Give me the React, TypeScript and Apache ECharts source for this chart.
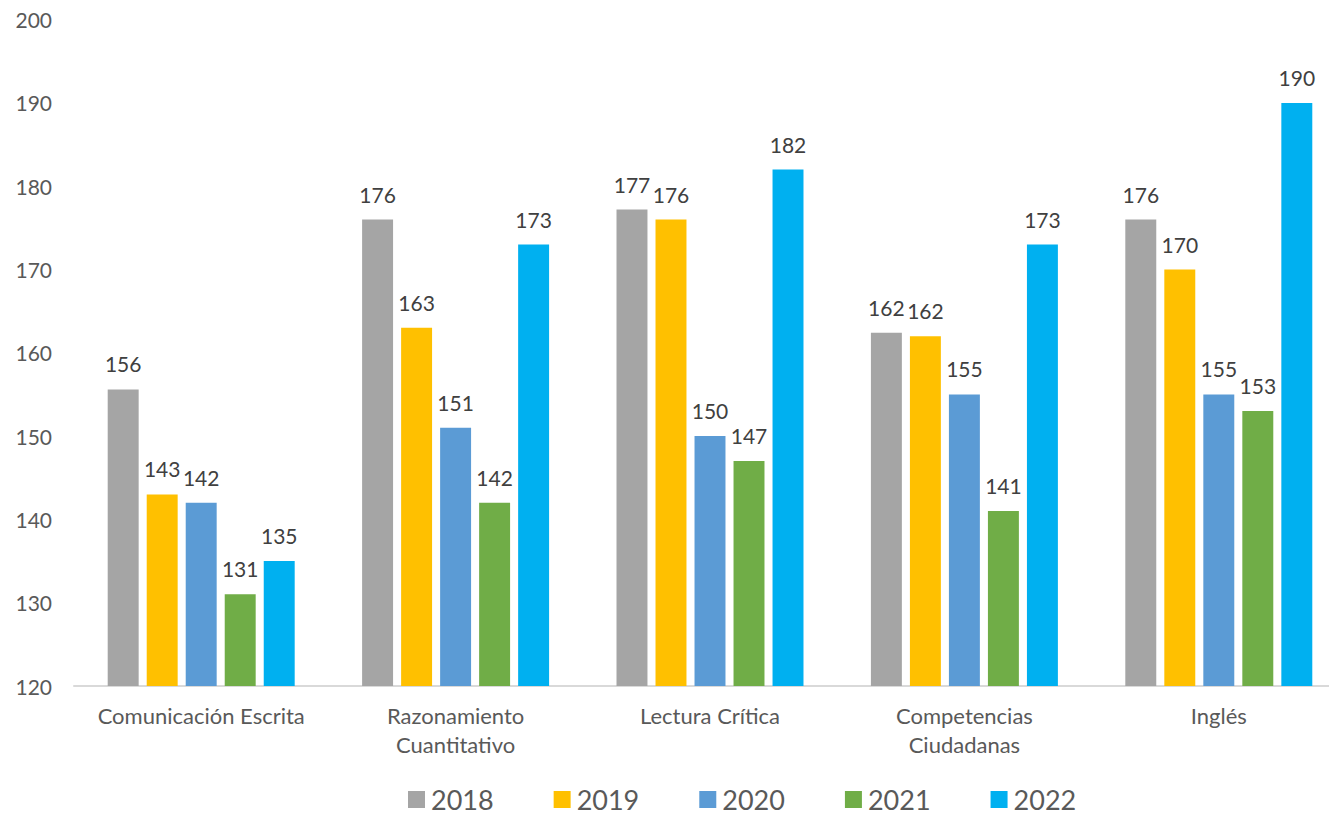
import React, { useEffect, useRef } from "react";
import * as echarts from "echarts";

const categories = [
  "Comunicación Escrita",
  "Razonamiento\nCuantitativo",
  "Lectura Crítica",
  "Competencias\nCiudadanas",
  "Inglés",
];
const years = ["2018", "2019", "2020", "2021", "2022"];
const values2018 = [155.6, 176, 177.2, 162.4, 176];
const values2019 = [143, 163, 176, 162, 170];
const values2020 = [142, 151, 150, 155, 155];
const values2021 = [131, 142, 147, 141, 153];
const values2022 = [135, 173, 182, 173, 190];
const colors = ["#A5A5A5", "#FFC000", "#5B9BD5", "#70AD47", "#00B0F0"];
const yTicks = { min: 120, max: 200, interval: 10 };

const FONT = "Lato";

export default function App() {
  const ref = useRef<HTMLDivElement>(null);
  useEffect(() => {
    if (!ref.current) return;
    const chart = echarts.init(ref.current, undefined, { renderer: "svg" });
    const all = [values2018, values2019, values2020, values2021, values2022];
    chart.setOption({
      animation: false,
      backgroundColor: "#ffffff",
      textStyle: { fontFamily: FONT },
      grid: {
        left: 74,
        width: 1272,
        top: 19.6,
        height: 666.4,
        containLabel: false,
        outerBoundsMode: "none",
      },
      legend: {
        data: years,
        left: 408,
        top: 786,
        padding: 0,
        itemWidth: 17,
        itemHeight: 17,
        itemGap: 60,
        icon: "rect",
        textStyle: {
          fontFamily: FONT,
          fontSize: 27,
          lineHeight: 27,
          color: "#595959",
          padding: [0, 0, 0, 1],
        },
      },
      xAxis: {
        type: "category",
        data: categories,
        axisLine: { show: true, lineStyle: { color: "#D9D9D9", width: 2 } },
        axisTick: { show: false },
        axisLabel: {
          fontFamily: FONT,
          fontSize: 22,
          color: "#595959",
          lineHeight: 29,
          margin: 15,
          interval: 0,
        },
      },
      yAxis: {
        type: "value",
        min: yTicks.min,
        max: yTicks.max,
        interval: yTicks.interval,
        splitLine: { show: false },
        axisLine: { show: false },
        axisTick: { show: false },
        axisLabel: { fontFamily: FONT, fontSize: 21, color: "#595959", margin: 22 },
      },
      series: years.map((y, i) => ({
        name: y,
        type: "bar",
        data: all[i],
        itemStyle: { color: colors[i] },
        barGap: "26%",
        barCategoryGap: "26.5%",
        label: {
          show: true,
          position: "top",
          distance: 15,
          fontFamily: FONT,
          fontSize: 21,
          color: "#404040",
          formatter: (p: any) => String(Math.round(p.value)),
        },
      })),
    });
    return () => chart.dispose();
  }, []);
  return <div ref={ref} style={{ width: 1329, height: 815, position: "absolute", left: 0, top: 0 }} />;
}
